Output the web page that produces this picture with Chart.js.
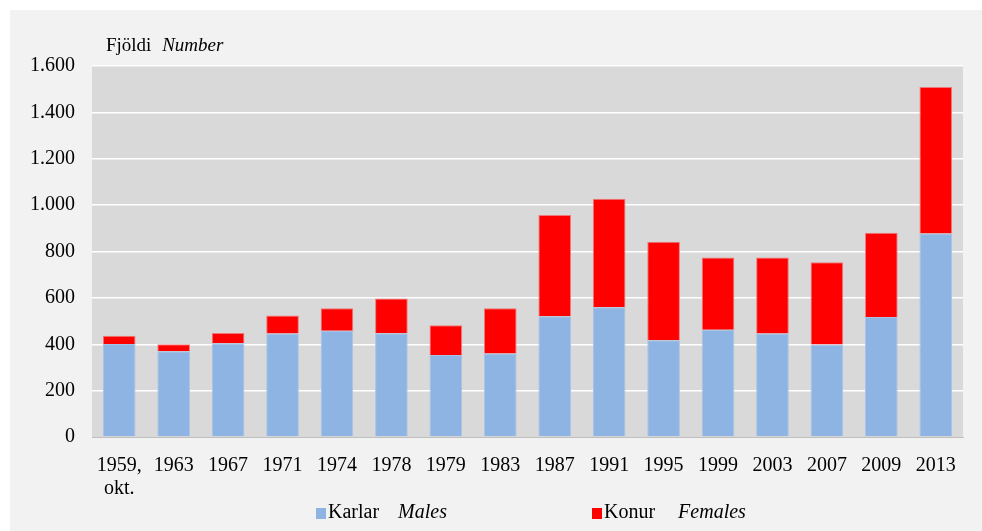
<!DOCTYPE html>
<html>
<head>
<meta charset="utf-8">
<script src="https://cdn.jsdelivr.net/npm/chart.js@4/dist/chart.umd.min.js"></script>
<style>
  body { margin: 0; background: #fff; font-family: 'Liberation Serif', 'Times New Roman', serif; }
  #wrap { position: absolute; left: 10px; top: 10px; width: 972px; height: 521px; background: #f2f2f2; }
  #chart { position: absolute; left: 0; top: 0; }
  .title { position: absolute; left: 96px; top: 24px; font-size: 19px; color: #000; white-space: nowrap; }
  .legend { position: absolute; top: 490px; font-size: 20px; color: #000; white-space: nowrap; }
  .legend .box { display: inline-block; width: 10px; height: 11px; margin-right: 2px; vertical-align: -1px; }
  i { margin-left: 14px; }
</style>
</head>
<body>
<div id="wrap">
  <canvas id="chart" width="972" height="521"></canvas>
  <div class="title">Fjöldi <i style="margin-left:6px">Number</i></div>
  <div class="legend" style="left:306px"><span class="box" style="background:#8eb4e3"></span>Karlar <i>Males</i></div>
  <div class="legend" style="left:582px"><span class="box" style="background:#ff0000"></span>Konur <i style="margin-left:18px">Females</i></div>
</div>
<script>
const years = [['1959,', 'okt.'], '1963', '1967', '1971', '1974', '1978', '1979', '1983',
  '1987', '1991', '1995', '1999', '2003', '2007', '2009', '2013'];
const males = [401, 370, 404, 446, 458, 447, 354, 360, 521, 560, 417, 463, 446, 399, 517, 878];
const females = [36, 30, 45, 78, 97, 150, 128, 195, 436, 467, 425, 311, 328, 355, 364, 631];
const yTicks = [0, 200, 400, 600, 800, 1000, 1200, 1400, 1600];

// gray plot background
const plotBg = {
  id: 'plotBg',
  beforeDraw(chart) {
    const { ctx, chartArea: a } = chart;
    ctx.save();
    ctx.fillStyle = '#d9d9d9';
    ctx.fillRect(a.left, a.top, a.right - a.left, a.bottom - a.top);
    ctx.restore();
  }
};

const serif = "'Liberation Serif', 'Times New Roman', serif";

new Chart(document.getElementById('chart'), {
  type: 'bar',
  data: {
    labels: years,
    datasets: [
      { label: 'Karlar', data: males, backgroundColor: '#8eb4e3', borderColor: '#a9c3e6', borderWidth: 1 },
      { label: 'Konur', data: females, backgroundColor: '#ff0000', borderColor: '#f07a7a', borderWidth: 1 }
    ]
  },
  options: {
    responsive: false,
    animation: false,
    layout: { padding: { left: 0, right: 19, top: 56, bottom: 0 } },
    plugins: { legend: { display: false }, tooltip: { enabled: false } },
    datasets: { bar: { barPercentage: 0.6, categoryPercentage: 1 } },
    scales: {
      x: {
        stacked: true,
        grid: { display: false },
        border: { display: true, color: '#bfbfbf', width: 1 },
        ticks: { color: '#000', font: { family: serif, size: 20, lineHeight: 1.15 }, padding: 9, maxRotation: 0, autoSkip: false },
        afterFit(scale) { scale.height = 94; }
      },
      y: {
        stacked: true,
        min: 0,
        max: 1600,
        afterBuildTicks(scale) { scale.ticks = yTicks.map(v => ({ value: v })); },
        grid: {
          color: ctx => ctx.tick && ctx.tick.value === 0 ? 'rgba(0,0,0,0)' : '#ffffff',
          lineWidth: 1.5,
          drawTicks: false
        },
        border: { display: false },
        ticks: {
          color: '#000',
          font: { family: serif, size: 20 },
          padding: 17,
          callback: v => v.toString().replace(/\B(?=(\d{3})+(?!\d))/g, '.')
        },
        afterFit(scale) { scale.width = 82; }
      }
    }
  },
  plugins: [plotBg]
});
</script>
</body>
</html>
